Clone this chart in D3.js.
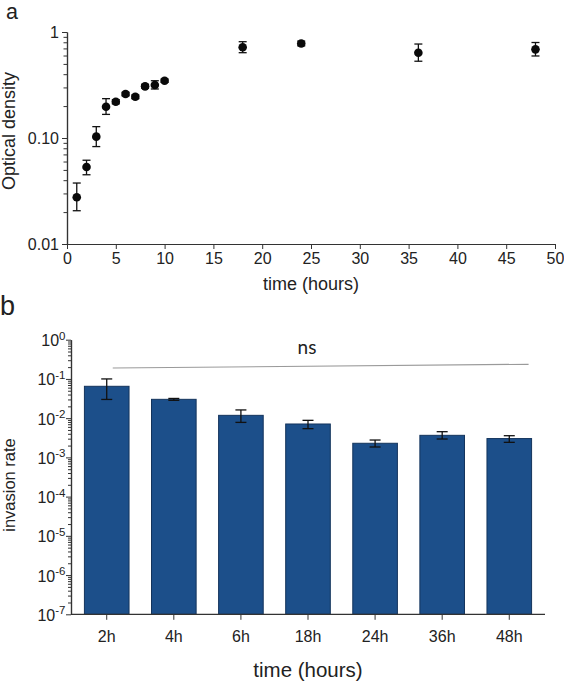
<!DOCTYPE html>
<html><head><meta charset="utf-8">
<script src="https://cdn.jsdelivr.net/npm/d3@7/dist/d3.min.js"></script>
<style>
body{margin:0;background:#fff;}
text{font-family:"Liberation Sans",Arial,sans-serif;fill:#222;}
</style></head>
<body><svg id="c" width="564" height="683"></svg>
<script>
// Panel a: growth curve
const odTime  = [1, 2, 3, 4, 5, 6, 7, 8, 9, 10, 18, 24, 36, 48];
const odMean  = [0.0276, 0.0533, 0.103, 0.197, 0.22, 0.26, 0.245, 0.307, 0.316, 0.347, 0.717, 0.78, 0.638, 0.686];
const odLow   = [0.0206, 0.045, 0.083, 0.167, 0.21, 0.25, 0.235, 0.295, 0.29, 0.335, 0.638, 0.74, 0.53, 0.594];
const odHigh  = [0.0376, 0.0617, 0.128, 0.235, 0.23, 0.27, 0.255, 0.32, 0.347, 0.36, 0.81, 0.82, 0.77, 0.796];
const odXTicks = [0, 5, 10, 15, 20, 25, 30, 35, 40, 45, 50];
const odYTicks = [0.01, 0.1, 1];
const odYLabels = ["0.01", "0.10", "1"];

// Panel b: invasion rate
const invCats  = ["2h", "4h", "6h", "18h", "24h", "36h", "48h"];
const invMean  = [0.0649, 0.0302, 0.0118, 0.0071, 0.00229, 0.00365, 0.00302];
const invLow   = [0.030, 0.0285, 0.0078, 0.0054, 0.00184, 0.00294, 0.00242];
const invHigh  = [0.100, 0.0318, 0.0162, 0.0088, 0.00277, 0.00452, 0.00357];
const invYExp  = [0, -1, -2, -3, -4, -5, -6, -7];
const sigLabel = "ns";

const svg = d3.select("#c");
const axisCol = "#333";

function styleAxis(g){
  g.selectAll("path.domain").attr("stroke", axisCol).attr("stroke-width", 1.2);
  g.selectAll(".tick line").attr("stroke", axisCol).attr("stroke-width", 1);
}
function minorVals(lo, hi){
  const v = [];
  for (let e = lo; e < hi; e++) for (let m = 2; m <= 9; m++) v.push(m * Math.pow(10, e));
  return v;
}

// ---------- Panel a ----------
const xA = d3.scaleLinear([0, 50], [67, 555]);
const yA = d3.scaleLog([0.01, 1], [244, 32]);

svg.append("text").attr("x", 6).attr("y", 19).attr("font-size", 21.5).text("a");

const gxA = svg.append("g").attr("transform", `translate(0,${yA(0.01)})`)
  .call(d3.axisBottom(xA).tickValues(odXTicks).tickSize(5).tickPadding(4).tickSizeOuter(0));
gxA.selectAll("text").attr("font-size", 16).attr("fill", "#222").attr("font-family", '"Liberation Sans",Arial,sans-serif');
styleAxis(gxA);

const gyAm = svg.append("g").attr("transform", `translate(${xA(0)},0)`)
  .call(d3.axisLeft(yA).tickValues(minorVals(-2, 0)).tickSize(3.5).tickFormat("").tickSizeOuter(0));
styleAxis(gyAm);
const gyA = svg.append("g").attr("transform", `translate(${xA(0)},0)`)
  .call(d3.axisLeft(yA).tickValues(odYTicks).tickSize(5).tickPadding(3).tickSizeOuter(0)
    .tickFormat((d, i) => odYLabels[i]));
gyA.selectAll("text").attr("font-size", 16).attr("fill", "#222").attr("font-family", '"Liberation Sans",Arial,sans-serif');
styleAxis(gyA);

svg.append("text").attr("x", (xA(0) + xA(50)) / 2).attr("y", 290)
  .attr("text-anchor", "middle").attr("font-size", 18).text("time (hours)");
svg.append("text").attr("transform", `translate(15,${(yA(0.01) + yA(1)) / 2 - 7}) rotate(-90)`)
  .attr("text-anchor", "middle").attr("font-size", 18).text("Optical density");

const ptsA = odTime.map((t, i) => ({t, m: odMean[i], lo: odLow[i], hi: odHigh[i]}));
const eA = svg.append("g").attr("stroke", "#111").attr("stroke-width", 1.3);
ptsA.forEach(p => {
  const x = xA(p.t);
  eA.append("line").attr("x1", x).attr("x2", x).attr("y1", yA(p.lo)).attr("y2", yA(p.hi));
  eA.append("line").attr("x1", x - 4).attr("x2", x + 4).attr("y1", yA(p.lo)).attr("y2", yA(p.lo));
  eA.append("line").attr("x1", x - 4).attr("x2", x + 4).attr("y1", yA(p.hi)).attr("y2", yA(p.hi));
});
svg.append("g").selectAll("circle").data(ptsA).join("circle")
  .attr("cx", d => xA(d.t)).attr("cy", d => yA(d.m)).attr("r", 4.3).attr("fill", "#0a0a0a");

// ---------- Panel b ----------
const xB = d3.scaleBand(invCats, [71, 545]).paddingInner(0.335).paddingOuter(0.2);
const yB = d3.scaleLog([1e-7, 1], [614.3, 339.7]);

svg.append("text").attr("x", 0).attr("y", 315).attr("font-size", 27).text("b");

const bars = invCats.map((c, i) => ({c, m: invMean[i], lo: invLow[i], hi: invHigh[i]}));
svg.append("g").selectAll("rect").data(bars).join("rect")
  .attr("x", d => xB(d.c)).attr("width", xB.bandwidth())
  .attr("y", d => yB(d.m)).attr("height", d => yB(1e-7) - yB(d.m))
  .attr("fill", "#1c4f8a").attr("stroke", "#14345c").attr("stroke-width", 1);

const eB = svg.append("g").attr("stroke", "#111").attr("stroke-width", 1.3);
bars.forEach(b => {
  const x = xB(b.c) + xB.bandwidth() / 2;
  eB.append("line").attr("x1", x).attr("x2", x).attr("y1", yB(b.lo)).attr("y2", yB(b.hi));
  eB.append("line").attr("x1", x - 5.5).attr("x2", x + 5.5).attr("y1", yB(b.lo)).attr("y2", yB(b.lo));
  eB.append("line").attr("x1", x - 5.5).attr("x2", x + 5.5).attr("y1", yB(b.hi)).attr("y2", yB(b.hi));
});

const gxB = svg.append("g").attr("transform", `translate(0,${yB(1e-7)})`)
  .call(d3.axisBottom(xB).tickSize(5.5).tickPadding(11).tickSizeOuter(0));
gxB.selectAll("text").attr("font-size", 16).attr("fill", "#222").attr("font-family", '"Liberation Sans",Arial,sans-serif');
styleAxis(gxB);
gxB.select("path.domain").attr("d", `M71,0H545`);

const gyBm = svg.append("g").attr("transform", `translate(71,0)`)
  .call(d3.axisLeft(yB).tickValues(minorVals(-7, 0)).tickSize(3).tickFormat("").tickSizeOuter(0));
styleAxis(gyBm);
const gyB = svg.append("g").attr("transform", `translate(71,0)`)
  .call(d3.axisLeft(yB).tickValues(invYExp.map(e => Math.pow(10, e))).tickSize(5).tickFormat("").tickSizeOuter(0));
styleAxis(gyB);
const lblB = svg.append("g");
invYExp.forEach(e => {
  const t = lblB.append("text").attr("x", 65.5).attr("y", yB(Math.pow(10, e)) + 6.5)
    .attr("text-anchor", "end").attr("font-size", 16);
  t.append("tspan").text("10");
  t.append("tspan").attr("dy", -6.5).attr("font-size", 11.5).text(String(e));
});

svg.append("text").attr("x", 308).attr("y", 677).attr("text-anchor", "middle")
  .attr("font-size", 20.5).text("time (hours)");
svg.append("text").attr("transform", `translate(15,485) rotate(-90)`)
  .attr("text-anchor", "middle").attr("font-size", 16.5).text("invasion rate");

// significance line
const sx1 = xB(invCats[0]) + xB.bandwidth() / 2 + 6;
const sx2 = xB(invCats[invCats.length - 1]) + xB.bandwidth() - 3;
svg.append("line").attr("x1", sx1).attr("x2", sx2).attr("y1", 368).attr("y2", 364.3)
  .attr("stroke", "#9a9a9a").attr("stroke-width", 1.2);
svg.append("text").attr("x", 307).attr("y", 354).attr("text-anchor", "middle")
  .style("font-family", "Lato, 'Open Sans', sans-serif")
  .attr("font-size", 19).text(sigLabel);
</script></body></html>
